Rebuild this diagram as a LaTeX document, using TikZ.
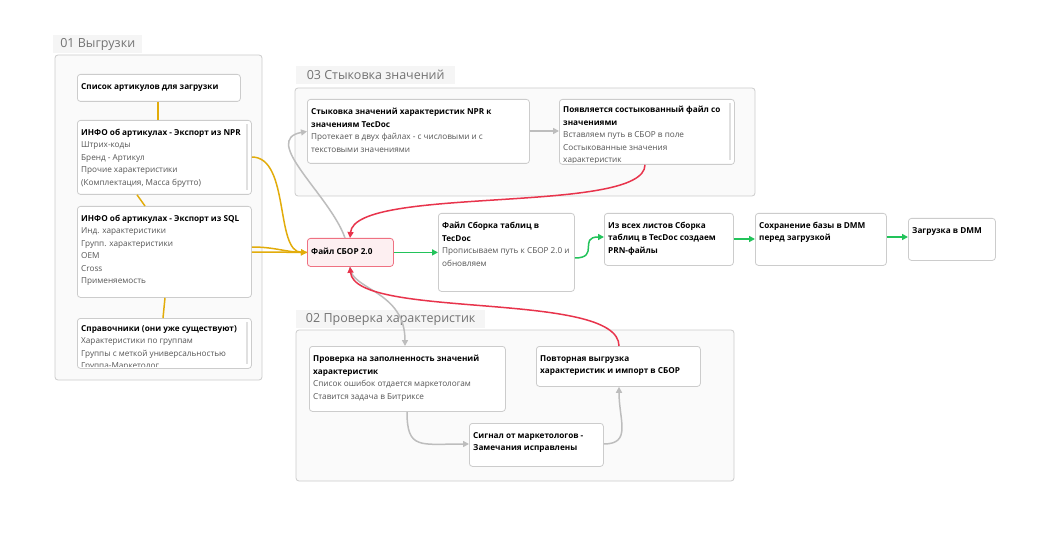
\documentclass[tikz,border=0pt]{standalone}
\usepackage{fontspec}
\setmainfont{Open Sans}
\usetikzlibrary{arrows.meta}
\definecolor{ylw}{HTML}{E2AC0A}
\definecolor{grn}{HTML}{22C35A}
\definecolor{rd}{HTML}{E8344C}
\definecolor{gry}{HTML}{BDBDBD}
\definecolor{txt}{HTML}{555555}
\tikzset{
  grp/.style={draw=black!20, fill=black!2, rounded corners=3pt, line width=0.8pt},
  grplbl/.style={fill=black!4, anchor=north west, inner sep=2pt, font=\fontsize{12.5}{14}\selectfont, text=black!55, minimum height=18pt},
  box/.style={draw=black!20, fill=white, rounded corners=3pt, line width=0.8pt, anchor=north west},
  tx/.style={anchor=north west, align=flush left, inner sep=0pt, font=\fontsize{8.2}{12.5}\selectfont},
  sb/.style={fill=black!12, draw=none},
  ya/.style={ylw, line width=1.5pt, -{Triangle[length=6pt,width=6pt]}},
  yl/.style={ylw, line width=1.5pt},
  ga/.style={gry, line width=1.5pt, -{Triangle[length=6pt,width=6pt]}},
  gra/.style={grn, line width=1.5pt, -{Triangle[length=6pt,width=6pt]}},
  ra/.style={rd, line width=1.5pt, -{Triangle[length=6pt,width=6pt]}},
}
\newcommand{\bx}[6]{% name x y w h text
  \node[box, minimum width=#4pt, minimum height=#5pt] (#1) at (#2,#3) {};
  \node[tx, text width=#4pt-8pt] (#1t) at (#2+4,#3+9) {#6};}
\newcommand{\hd}[1]{\textbf{#1}}
\newcommand{\bd}[1]{{\color{txt}#1}}
\begin{document}
\hyphenpenalty=10000 \exhyphenpenalty=10000
\begin{tikzpicture}[x=1pt,y=-1pt]
\useasboundingbox (0,0) rectangle (1051,537);
\fill[white] (0,0) rectangle (1051,537);
% groups
\node[grplbl, minimum width=89pt] (g1l) at (53,35) {01 Выгрузки};
\draw[grp] (55,55) rectangle (262,380);
\node[grplbl, minimum width=159pt] (g3l) at (296,66) {03 Стыковка значений};
\draw[grp] (295,88) rectangle (755,196);
\node[grplbl, minimum width=189pt] (g2l) at (296,310) {02 Проверка характеристик};
\draw[grp] (296,330) rectangle (734,481);
% group 01
\bx{a1}{77}{74}{163}{27}{\hd{Список артикулов для загрузки}}
\bx{a2}{77}{120}{174}{74}{\hd{ИНФО об артикулах - Экспорт из NPR}\\\bd{Штрих-коды}\\\bd{Бренд - Артикул}\\\bd{Прочие характеристики}\\\bd{(Комплектация, Масса брутто)}}
\fill[sb] (246,124) rectangle (248,190);
\bx{a3}{77}{206}{174}{91}{\hd{ИНФО об артикулах - Экспорт из SQL}\\\bd{Инд. характеристики}\\\bd{Групп. характеристики}\\\bd{OEM}\\\bd{Cross}\\\bd{Применяемость}}
\begin{scope}
\node[box, minimum width=174pt, minimum height=50pt] (a4) at (77,318) {};
\clip (77,318) rectangle (251,366);
\node[tx, text width=170pt] (a4t) at (81,325) {\hd{Справочники (они уже существуют)}\\\bd{Характеристики по группам}\\\bd{Группы с меткой универсальностью}\\\bd{Группа-Маркетолог}};
\end{scope}
\fill[sb] (246,322) rectangle (248,364);
% group 03
\bx{b1}{307}{99}{222}{64}{\hd{Стыковка значений характеристик NPR к значениям TecDoc}\\\bd{Протекает в двух файлах - с числовыми и с текстовыми значениями}}
\begin{scope}
\node[box, minimum width=175pt, minimum height=65pt] (b2) at (559,99) {};
\clip (559,99) rectangle (734,163);
\node[tx, text width=167pt] (b2t) at (563,106) {\hd{Появляется состыкованный файл со значениями}\\\bd{Вставляем путь в СБОР в поле}\\\bd{Состыкованные значения}\\\bd{характеристик}};
\end{scope}
\fill[sb] (729,103) rectangle (731,160);
% main row
\node[box, draw=rd!70, fill=rd!8, minimum width=86pt, minimum height=28pt] (sbor) at (307,238) {};
\node[tx] (sbort) at (311,248) {\hd{Файл СБОР 2.0}};
\bx{c1}{438}{213}{136}{78}{\hd{Файл Сборка таблиц в}\\\hd{TecDoc}\\\bd{Прописываем путь к СБОР 2.0 и обновляем}}
\bx{c2}{604}{213}{129}{52}{\hd{Из всех листов Сборка таблиц в TecDoc создаем PRN-файлы}}
\bx{c3}{755}{213}{131}{52}{\hd{Сохранение базы в DMM перед загрузкой}}
\bx{c4}{908}{218}{87}{42}{\hd{Загрузка в DMM}}
% group 02
\bx{d1}{309}{346}{196}{65}{\hd{Проверка на заполненность значений характеристик}\\\bd{Список ошибок отдается маркетологам}\\\bd{Ставится задача в Битриксе}}
\bx{d2}{536}{346}{164}{40}{\hd{Повторная выгрузка}\\\hd{характеристик и импорт в СБОР}}
\bx{d3}{469}{423}{134}{43}{\hd{Сигнал от маркетологов - Замечания исправлены}}
% yellow
\draw[yl] (a1.south -| 158,0) -- (a2.north -| 158,0);
\draw[yl] (a2.south -| 137,0) -- (a3.north -| 145,0);
\draw[yl] (a3.south -| 165,0) -- (a4.north -| 163,0);
\draw[ya] (a2.east |- 0,157) .. controls (290,157) and (275,252) .. (sbor.west);
\draw[ya] (a3.east |- 0,247) .. controls (275,247) and (285,252) .. (sbor.west);
\draw[ylw, line width=1.5pt] (a3.east |- 0,252) -- (sbor.west);
% gray
\draw[ga] (sbor.north -| 345,0) .. controls (330,195) and (260,140) .. (b1.west);
\draw[ga] (b1.east |- 0,131) -- (b2.west |- 0,131);
\draw[ga] (sbor.south -| 350,0) .. controls (350,290) and (405,290) .. (d1.north -| 405,0);
\draw[ga] (d1.south -| 407,0) .. controls (407,450) and (420,444) .. (d3.west |- 0,444);
\draw[ga] (d3.east |- 0,444) .. controls (632,444) and (619,420) .. (d2.south -| 619,0);
% red
\draw[ra] (b2.south -| 645,0) .. controls (645,215) and (355,185) .. (sbor.north -| 350,0);
\draw[ra] (d2.north -| 619,0) .. controls (619,290) and (355,320) .. (sbor.south -| 350,0);
% green
\draw[gra] (sbor.east) -- (c1.west |- sbor.east);
\draw[gra] (c1.east |- 0,258) .. controls (600,258) and (578,237) .. (c2.west |- 0,237);
\draw[gra] (c2.east |- 0,239) -- (c3.west |- 0,239);
\draw[gra] (c3.east |- 0,237) -- (c4.west |- 0,237);
\end{tikzpicture}
\end{document}
